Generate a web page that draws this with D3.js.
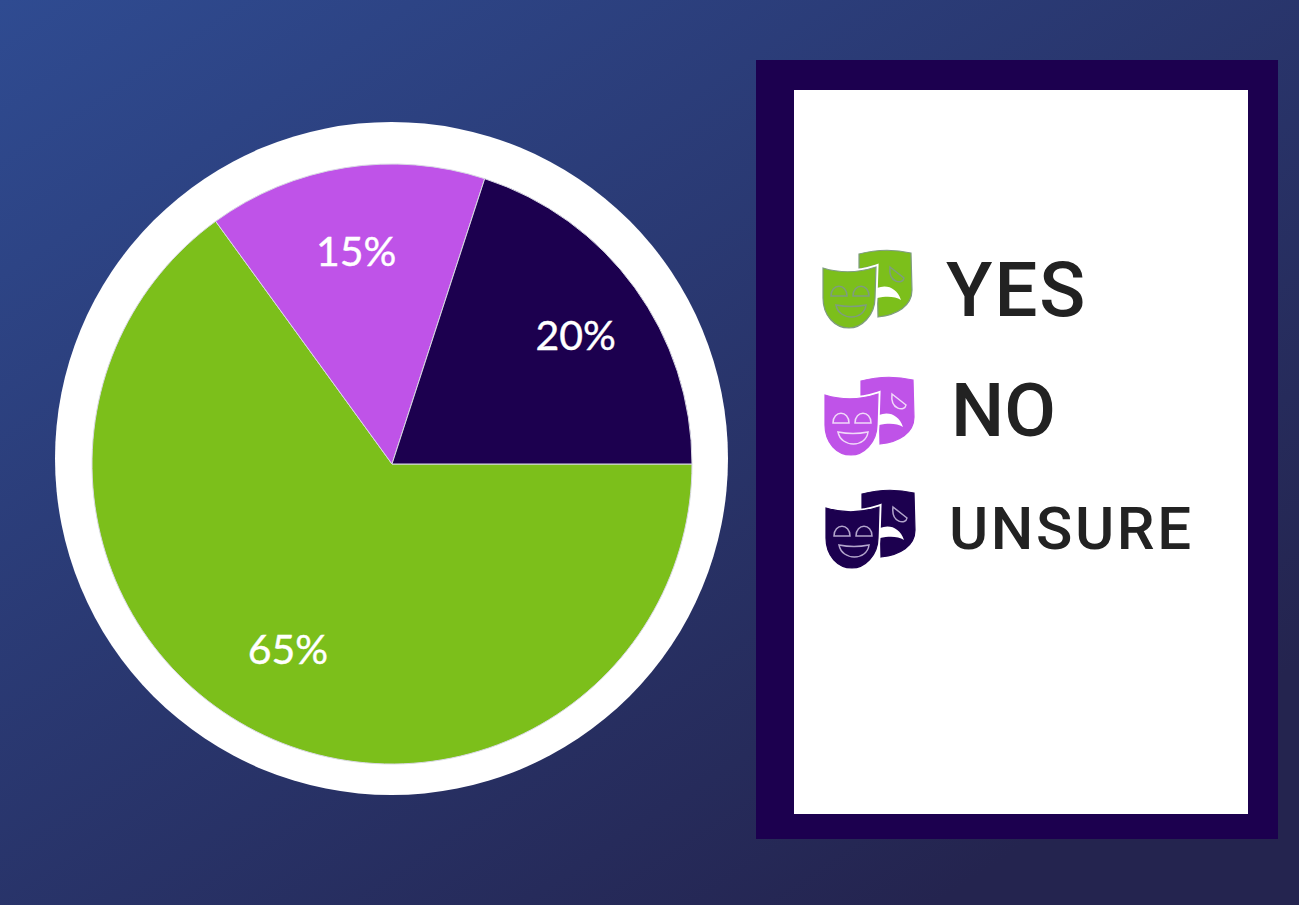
<!DOCTYPE html>
<html>
<head>
	<meta charset="utf-8">
	<title>Pie</title>
	<style>
		html, body { margin: 0; padding: 0; background: #26264f; }
		svg { display: block; }
	</style>
</head>
<body>
	<svg width="1299" height="905"></svg>
<script src="https://cdn.jsdelivr.net/npm/d3@7"></script>
<script>
	//数据
	const categories = ["YES", "NO", "UNSURE"]
	const values = [65, 15, 20]
	const colors = ["#7cbf1b", "#bf53e8", "#1c004f"]
	const iconOutlines = ["#7f9c80", "#bf53e8", "#1c004f"]
	const iconLines = ["#7f9c80", "#f1d9f9", "#b3a5cc"]

	//布局
	const cx = 392, cy = 464, r = 300
	const labelNudge = [[-6, -8], [-2, 0], [9, -3]]
	const legendRows = [
		{ ix: 823, iy: 250, tx: 946, ty: 316, size: 76, gap: 2 },
		{ ix: 825, iy: 377, tx: 951, ty: 436, size: 75, gap: 0 },
		{ ix: 826, iy: 490, tx: 949, ty: 549, size: 60, gap: 2.6 }
	]

	const svg = d3.select("svg")

	//背景
	const grad = svg.append("defs").append("linearGradient")
		.attr("id", "bg").attr("gradientUnits", "userSpaceOnUse")
		.attr("x1", 0).attr("y1", 0).attr("x2", 700).attr("y2", 1060)
	grad.append("stop").attr("offset", 0).attr("stop-color", "#2f4b91")
	grad.append("stop").attr("offset", 1).attr("stop-color", "#24244f")
	svg.append("rect").attr("width", 1299).attr("height", 905).attr("fill", "url(#bg)")

	//白色外圈
	svg.append("circle").attr("cx", 391.5).attr("cy", 458.5).attr("r", 336.5).attr("fill", "#fff")

	//饼图
	const pie = d3.pie().sort(null).startAngle(Math.PI / 2).endAngle(Math.PI / 2 + 2 * Math.PI)
	const arcs = pie(values)
	const arc = d3.arc().innerRadius(0).outerRadius(r)
	const labelArc = d3.arc().innerRadius(216).outerRadius(216)
	const g = svg.append("g").attr("transform", `translate(${cx},${cy})`)

	g.selectAll("path").data(arcs).enter().append("path")
		.attr("d", arc)
		.attr("fill", (d, i) => colors[i])
		.attr("stroke", "#d9d9e4").attr("stroke-width", 1)

	g.selectAll("text").data(arcs).enter().append("text")
		.attr("x", (d, i) => labelArc.centroid(d)[0] + labelNudge[i][0])
		.attr("y", (d, i) => labelArc.centroid(d)[1] + labelNudge[i][1])
		.attr("text-anchor", "middle").attr("dominant-baseline", "central")
		.attr("font-family", "Lato").attr("font-size", 41).attr("fill", "#fff")
		.attr("stroke", "#fff").attr("stroke-width", 0.4)
		.text(d => d.data + "%")

	//图例面板
	svg.append("rect").attr("x", 756).attr("y", 60).attr("width", 522).attr("height", 779).attr("fill", "#1c004f")
	svg.append("rect").attr("x", 794).attr("y", 90).attr("width", 454).attr("height", 724).attr("fill", "#fff")

	//面具图标
	function drawMasks(el, fill, outline, line) {
		//后面的哭脸
		el.append("path")
			.attr("d", "M36,4 Q62,-3 88,3 L89,40 C89,56 74,65 55,67 L54,15 L36,19 Z")
			.attr("fill", fill).attr("stroke", outline).attr("stroke-width", 1.2)
		//嘴
		el.append("path")
			.attr("d", "M54,38 C64,34 74,38 78,50 C72,46 63,46 54,48 Z")
			.attr("fill", "#fff")
		//眼
		el.append("path")
			.attr("d", "M67,17 L81,28 C80,35 65,33 67,17 Z")
			.attr("fill", "none").attr("stroke", line).attr("stroke-width", 1.5)
		//前面的笑脸
		el.append("path")
			.attr("d", "M0,18 Q26,26 53,17 L52,48 C52,66 38,78 26,78 C12,78 0,66 0,48 Z")
			.attr("fill", "none").attr("stroke", "#fff").attr("stroke-width", 5)
		el.append("path")
			.attr("d", "M0,18 Q26,26 53,17 L52,48 C52,66 38,78 26,78 C12,78 0,66 0,48 Z")
			.attr("fill", fill).attr("stroke", outline).attr("stroke-width", 1.2)
		const face = el.append("g").attr("fill", "none").attr("stroke", line).attr("stroke-width", 1.5)
		face.append("path").attr("d", "M8,46 C8,33 24,33 24,46 Z")
		face.append("path").attr("d", "M30,46 C30,33 46,33 46,46 Z")
		face.append("path").attr("d", "M13,55 Q28,58 43,55 C41,71 16,71 13,55 Z")
	}

	//图例
	categories.forEach((name, i) => {
		const row = legendRows[i]
		drawMasks(svg.append("g").attr("transform", `translate(${row.ix},${row.iy})`), colors[i], iconOutlines[i], iconLines[i])
		svg.append("text")
			.attr("x", row.tx).attr("y", row.ty)
			.attr("font-family", "Roboto").attr("font-weight", 500).attr("font-size", row.size)
			.attr("letter-spacing", row.gap).attr("fill", "#222")
			.text(name)
	})
</script>
</body>
</html>
